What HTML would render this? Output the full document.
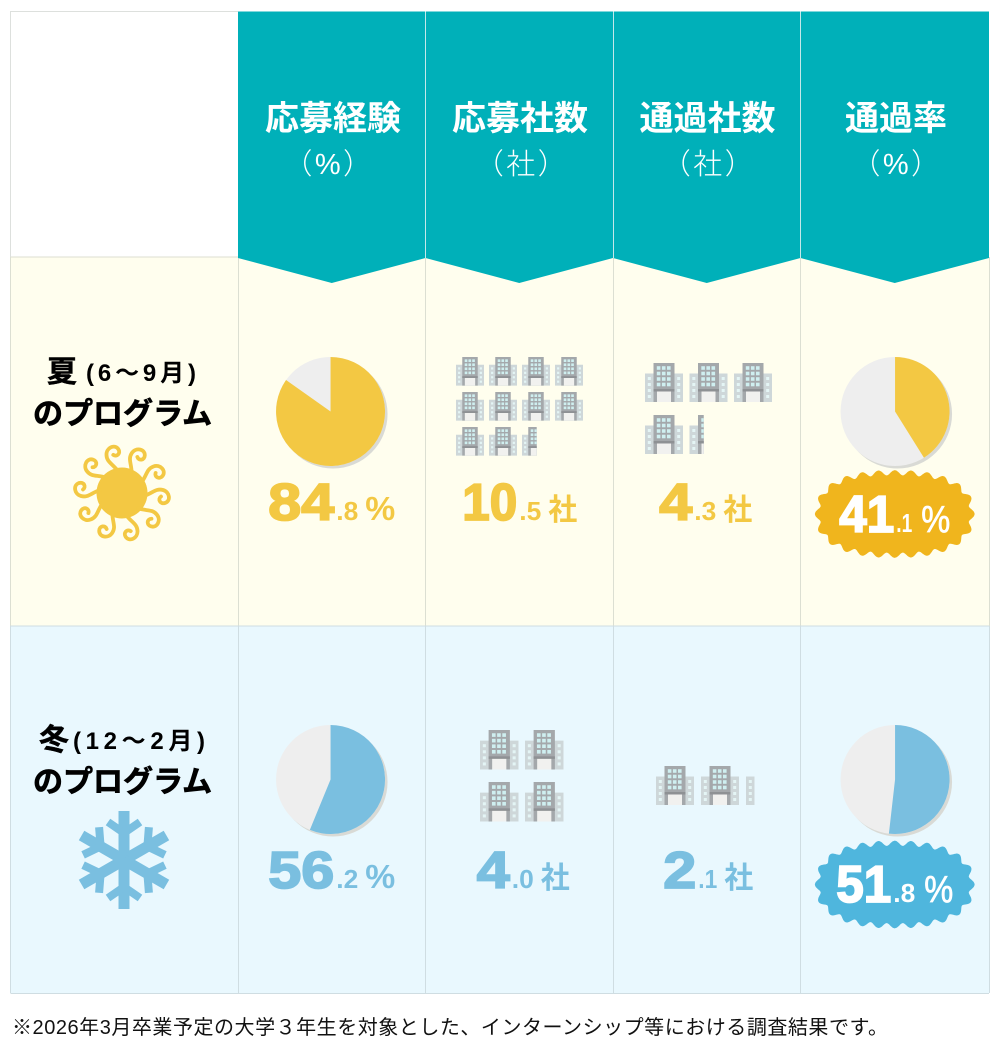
<!DOCTYPE html>
<html lang="ja">
<head>
<meta charset="utf-8">
<title>夏と冬のプログラム比較</title>
<style>
html,body{margin:0;padding:0;background:#fff;width:1000px;height:1060px;overflow:hidden}
svg{display:block}
text{font-family:"Liberation Sans","Noto Sans CJK JP",sans-serif}
</style>
</head>
<body>
<svg id="chart" xmlns="http://www.w3.org/2000/svg" width="1000" height="1060" viewBox="0 0 1000 1060">
  <g>
    <rect x="10.5" y="11.5" width="227.5" height="245.5" fill="#fff"/>
    <rect x="10.5" y="257" width="978.5" height="369" fill="#fffeee"/>
    <rect x="10.5" y="626" width="978.5" height="367.5" fill="#e9f8fe"/>
  </g>
  <g stroke-width="1" fill="none">
    <path stroke="#dcdfd2" d="M10.5 257H989M238.5 257V626M425.5 257V626M613.5 257V626M800.5 257V626M989.5 257V626M10.5 257V626"/>
    <path stroke="#cfdde2" d="M10.5 626H989M10.5 993.5H989M238.5 626V993M425.5 626V993M613.5 626V993M800.5 626V993M989.5 626V993M10.5 626V993"/>
    <path stroke="#dde0dd" d="M10.5 257V11.5H238"/>
  </g>
  <g>
    <polygon fill="#00b0b9" points="238,11.5 425.5,11.5 425.5,258 331.75,283 238,258"/>
    <polygon fill="#00b0b9" points="425.5,11.5 613,11.5 613,258 519.25,283 425.5,258"/>
    <polygon fill="#00b0b9" points="613,11.5 800.5,11.5 800.5,258 706.75,283 613,258"/>
    <polygon fill="#00b0b9" points="800.5,11.5 989,11.5 989,258 894.75,283 800.5,258"/>
    <path stroke="#c4e8ea" stroke-width="1" fill="none" d="M425.5 11.5V258M613.5 11.5V258M800.5 11.5V258"/>
    <text x="333" y="130" text-anchor="middle" fill="#fff" font-size="34" font-weight="700">応募経験</text>
    <text x="329" y="174" text-anchor="middle" fill="#fff" font-size="29" font-weight="300" letter-spacing="2.5">（%）</text>
    <text x="520" y="130" text-anchor="middle" fill="#fff" font-size="34" font-weight="700">応募社数</text>
    <text x="522" y="174" text-anchor="middle" fill="#fff" font-size="29" font-weight="300" letter-spacing="2.5">（社）</text>
    <text x="707.5" y="130" text-anchor="middle" fill="#fff" font-size="34" font-weight="700">通過社数</text>
    <text x="709" y="174" text-anchor="middle" fill="#fff" font-size="29" font-weight="300" letter-spacing="2.5">（社）</text>
    <text x="896" y="130" text-anchor="middle" fill="#fff" font-size="34" font-weight="700">通過率</text>
    <text x="897" y="174" text-anchor="middle" fill="#fff" font-size="29" font-weight="300" letter-spacing="2.5">（%）</text>
  </g>
  <g fill="#000" font-weight="700">
    <text x="47" y="382" font-size="30" stroke="#000" stroke-width="0.5">夏</text>
    <text x="86" y="381" font-size="24" textLength="110" lengthAdjust="spacing">(6～9月)</text>
    <text x="33" y="424" font-size="30" stroke="#000" stroke-width="0.7">のプログラム</text>
    <text x="39" y="750" font-size="30" stroke="#000" stroke-width="0.5">冬</text>
    <text x="73" y="749" font-size="24" textLength="132" lengthAdjust="spacing">(12～2月)</text>
    <text x="33" y="792" font-size="30" stroke="#000" stroke-width="0.7">のプログラム</text>
  </g>
  <g id="sun" transform="translate(122 493)"></g>
  <g id="snow" transform="translate(124 860)"></g>
  <g id="marks"></g>
  <text x="12" y="1034" font-size="20" fill="#111" textLength="876" lengthAdjust="spacing">※2026年3月卒業予定の大学３年生を対象とした、インターンシップ等における調査結果です。</text>
</svg>
<script>
const seasons = ['summer', 'winter'];
const experienceRate = [84.8, 56.2];
const appliedCompanies = [10.5, 4.0];
const passedCompanies = [4.3, 2.1];
const passRate = [41.1, 51.8];

const NS = 'http://www.w3.org/2000/svg';
const root = document.getElementById('marks');
const accent = ['#f3c843', '#7abfe0'];
const badgeFill = ['#f0b51d', '#4fb6dd'];
const rowPieY = [411.5, 779.5];
const rowValueY = [520, 888];
const rowBadgeY = [514, 884.5];
const rowBadgeBase = [532, 902];
const colX = [331.75, 519.25, 706.75, 894.75];
const appliedShift = [0.5, 4];
const passedShift = [-1, 1.5];

function make(tag, attrs, parent) {
  const el = document.createElementNS(NS, tag);
  for (const k in attrs) el.setAttribute(k, attrs[k]);
  (parent || root).appendChild(el);
  return el;
}

/* angle axis: share in percent -> point on the circle, clockwise from 12 o'clock */
function pt(cx, cy, r, pct) {
  const a = (pct / 100) * 2 * Math.PI;
  return [cx + r * Math.sin(a), cy - r * Math.cos(a)];
}

function drawPie(cx, cy, pct, color, name) {
  const r = 54.5;
  const g = make('g', {});
  
  
  const shadow = make('circle', { cx: cx + 2.5, cy: cy + 2.5, r: r, fill: '#d9dad5' }, g);
  
  
  const base = make('circle', { cx: cx, cy: cy, r: r, fill: '#eeeeee' }, g);
  
  
  const end = pt(cx, cy, r, pct);
  const large = pct > 50 ? 1 : 0;
  const d = 'M' + cx + ' ' + cy + 'L' + cx + ' ' + (cy - r) + 'A' + r + ' ' + r + ' 0 ' + large + ' 1 ' + end[0] + ' ' + end[1] + 'Z';
  const slice = make('path', { d: d, fill: color }, g);
  
  
}

function digitWidth(ch) { return ch === '1' ? 22 : 33; }
function numberWidth(s) { return s.split('').reduce((t, c) => t + digitWidth(c), 0); }

function drawValue(cx, y, value, unit, color, name, isBadge) {
  const parts = value.toFixed(1).split('.');
  const w1 = numberWidth(parts[0]);
  const w2 = parts[1] === '1' ? (isBadge ? 16 : 19) : 22;
  const isPct = unit === '%';
  const w3 = isPct ? (isBadge ? 29 : 30) : 29;
  const gap = isBadge ? 9 : 7;
  const total = w1 + 2 + w2 + gap + w3;
  let x = cx - total / 2;
  const g = make('g', { fill: color });
  
  
  const big = make('text', { x: x, y: y, 'font-size': 52, 'font-weight': 700, stroke: color, 'stroke-width': 1.8, textLength: w1, lengthAdjust: 'spacingAndGlyphs' }, g);
  big.textContent = parts[0];
  
  
  x += w1 + 2;
  const small = make('text', { x: x, y: y, 'font-size': 26, 'font-weight': 700, textLength: w2, lengthAdjust: 'spacingAndGlyphs' }, g);
  small.textContent = '.' + parts[1];
  
  
  x += w2 + gap;
  const unitEl = make('text', {
    x: x, y: y,
    'font-size': isPct ? (isBadge ? 38 : 33) : 30,
    'font-weight': isPct && isBadge ? 400 : 700,
    stroke: isPct && isBadge ? color : 'none',
    'stroke-width': 0.7,
    textLength: w3, lengthAdjust: 'spacingAndGlyphs'
  }, g);
  unitEl.textContent = unit;
  
  
}

function drawBadge(cx, cy, color, name) {
  const rx = 76.5, ry = 40.5, bumps = 24, amp = 2.6, n = 720;
  const raw = [];
  const lens = [0];
  for (let i = 0; i <= n; i++) {
    const t = i / n * 2 * Math.PI;
    const c = Math.cos(t), s = Math.sin(t);
    raw.push([rx * Math.sign(c) * Math.pow(Math.abs(c), 0.82), ry * Math.sign(s) * Math.pow(Math.abs(s), 0.82)]);
    if (i > 0) lens.push(lens[i - 1] + Math.hypot(raw[i][0] - raw[i - 1][0], raw[i][1] - raw[i - 1][1]));
  }
  const perim = lens[n];
  const pts = [];
  for (let i = 0; i < n; i++) {
    const prev = raw[(i + n - 1) % n], next = raw[i + 1];
    const tx = next[0] - prev[0], ty = next[1] - prev[1];
    const tl = Math.hypot(tx, ty) || 1;
    const off = amp * Math.cos(bumps * 2 * Math.PI * lens[i] / perim);
    pts.push((cx + raw[i][0] + off * ty / tl).toFixed(1) + ',' + (cy + raw[i][1] - off * tx / tl).toFixed(1));
  }
  const p = make('polygon', { points: pts.join(' '), fill: color, stroke: color, 'stroke-width': 1.5, 'stroke-linejoin': 'round' });
  
  
}

function drawBuilding(parent, x, y, w, frac) {
  const h = w * 39 / 38;
  const vis = 38 * frac;
  const s = make('svg', { x: x, y: y, width: w * frac, height: h, viewBox: '0 0 ' + vis + ' 39' }, parent);
  
  
  make('rect', { x: 0, y: 10.5, width: 38, height: 28.5, fill: '#ced7d9' }, s);
  make('rect', { x: 8.5, y: 0, width: 21, height: 39, fill: '#a4a8ab' }, s);
  make('rect', { x: 8.5, y: 26, width: 21, height: 2.5, fill: '#8e9194' }, s);
  make('rect', { x: 12, y: 28.5, width: 14, height: 10.5, fill: '#f1f1ef' }, s);
  for (let r = 0; r < 4; r++) {
    for (let c = 0; c < 3; c++) {
      make('rect', { x: 11.8 + c * 5.1, y: 3.2 + r * 5.5, width: 3.6, height: 3.6, fill: '#cfeff0' }, s);
    }
    make('rect', { x: 2.8, y: 14 + r * 6, width: 3, height: 3, fill: '#e4f5f5' }, s);
    make('rect', { x: 32.2, y: 14 + r * 6, width: 3, height: 3, fill: '#e4f5f5' }, s);
  }
}

function drawBuildings(value, left, top, cols, size, pitchX, pitchY, name) {
  const g = make('g', {});
  
  
  const whole = Math.floor(value + 1e-9);
  const rest = value - whole;
  for (let i = 0; i < whole; i++) {
    drawBuilding(g, left + (i % cols) * pitchX, top + Math.floor(i / cols) * pitchY, size, 1);
  }
  if (rest > 0.001) {
    /* the source clips partial icons a little wider than their literal share */
    const frac = Math.min(1, 0.15 + 0.75 * rest);
    drawBuilding(g, left + (whole % cols) * pitchX, top + Math.floor(whole / cols) * pitchY, size, frac);
  }
}

const appliedGrid = [
  { left: 456, top: 357, cols: 4, size: 28, px: 33, py: 35 },
  { left: 480, top: 730, cols: 2, size: 38.5, px: 45, py: 52 }
];
const passedGrid = [
  { left: 645, top: 363, cols: 3, size: 38, px: 44.5, py: 52 },
  { left: 656, top: 766, cols: 3, size: 38, px: 45, py: 52 }
];

seasons.forEach(function (season, i) {
  drawPie(colX[0] - 1.2, rowPieY[i], experienceRate[i], accent[i], season + '-experience-pie');
  drawValue(colX[0], rowValueY[i], experienceRate[i], '%', accent[i], season + '-experience-value', false);

  const a = appliedGrid[i];
  drawBuildings(appliedCompanies[i], a.left, a.top, a.cols, a.size, a.px, a.py, season + '-applied-buildings');
  drawValue(colX[1] + appliedShift[i], rowValueY[i], appliedCompanies[i], '社', accent[i], season + '-applied-value', false);

  const b = passedGrid[i];
  drawBuildings(passedCompanies[i], b.left, b.top, b.cols, b.size, b.px, b.py, season + '-passed-buildings');
  drawValue(colX[2] + passedShift[i], rowValueY[i], passedCompanies[i], '社', accent[i], season + '-passed-value', false);

  drawPie(colX[3] + 0.3, rowPieY[i], passRate[i], accent[i], season + '-pass-rate-pie');
  drawBadge(colX[3], rowBadgeY[i], badgeFill[i], season + '-pass-rate-badge');
  drawValue(colX[3], rowBadgeBase[i], passRate[i], '%', '#ffffff', season + '-pass-rate-value', true);
});

/* sun icon: disc plus ten curled rays */
const sun = document.getElementById('sun');
const disc = make('circle', { cx: 0, cy: 0, r: 25.5, fill: '#f3c843' }, sun);


for (let i = 0; i < 10; i++) {
  const ray = make('path', {
    d: 'M3 -22C0 -31 -5 -34 -3 -41C-1 -48 8 -49 10 -43C11.5 -38 6 -35.5 3.5 -39',
    fill: 'none', stroke: '#f3c843', 'stroke-width': 3.8, 'stroke-linecap': 'round',
    transform: 'rotate(' + (i * 36 + 18) + ')'
  }, sun);
  
  
}

/* snowflake icon: six identical arms */
const snow = document.getElementById('snow');
for (let i = 0; i < 6; i++) {
  const arm = make('g', { transform: 'rotate(' + (i * 60) + ')', fill: 'none', stroke: '#7abfe0' }, snow);
  
  
  make('path', { d: 'M0 0V-49', 'stroke-width': 11 }, arm);
  make('path', { d: 'M-16 -38L0 -27L16 -38', 'stroke-width': 8 }, arm);
}
</script>
</body>
</html>
